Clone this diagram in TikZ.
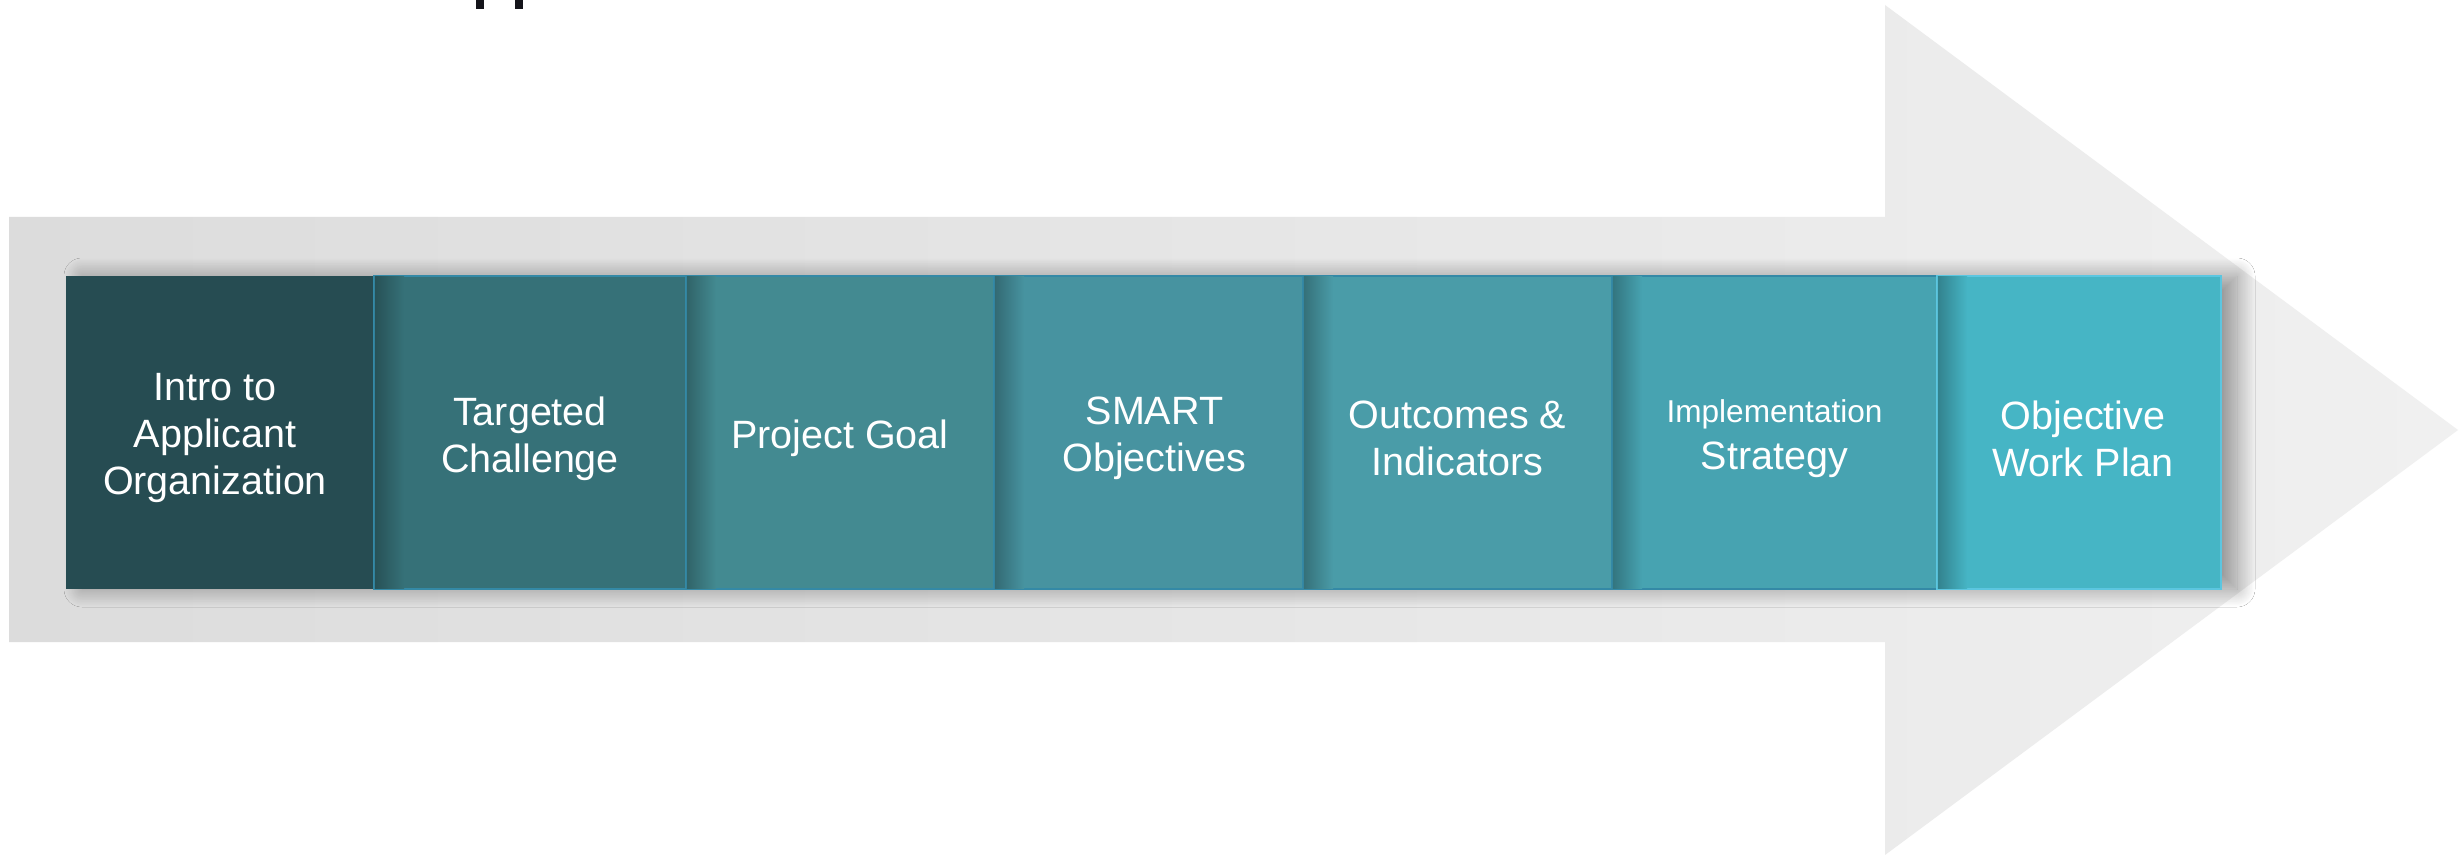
\documentclass[tikz,border=0pt]{standalone}
\usepackage{fontspec}
\setmainfont{Liberation Sans}
\usetikzlibrary{shadows.blur}
\pgfdeclarelayer{bg}
\pgfsetlayers{bg,main}
\definecolor{c1}{HTML}{264C52}
\definecolor{c2}{HTML}{367178}
\definecolor{c3}{HTML}{438A91}
\definecolor{c4}{HTML}{4793A0}
\definecolor{c5}{HTML}{4A9CA8}
\definecolor{c6}{HTML}{47A3B1}
\definecolor{c7}{HTML}{46B5C5}
\definecolor{edgeA}{HTML}{3489A6}
\definecolor{edgeB}{HTML}{5CC6E0}
\definecolor{shaftL}{HTML}{DCDCDC}
\definecolor{shaftR}{HTML}{F0F0F0}
\definecolor{titleink}{HTML}{14141A}
\begin{document}
\begin{tikzpicture}[x=0.5pt,y=-0.5pt,
  stepbox/.style={rectangle, inner sep=0pt, outer sep=0pt,
    minimum height=156.5pt},
  edged/.style={draw=edgeA, line width=0.8pt},
  steptext/.style={text=white, align=center, inner sep=0pt,
    font=\fontsize{19.75pt}{23.5pt}\selectfont},
  band/.style={left color=#1!72!black, right color=#1}
]
\useasboundingbox (0,0) rectangle (2461,855);
% boxes
\node (b1) [stepbox, fill=c1, minimum width=154pt] at (220,432.5) {};
\node (b2) [stepbox, fill=c2, edged, minimum width=156pt] at (530,432.5) {};
\node (b3) [stepbox, fill=c3, edged, minimum width=154pt] at (840,432.5) {};
\node (b4) [stepbox, fill=c4, edged, minimum width=154.5pt] at (1148.5,432.5) {};
\node (b5) [stepbox, fill=c5, edged, minimum width=154.5pt] at (1457.5,432.5) {};
\node (b6) [stepbox, fill=c6, edged, minimum width=162.5pt] at (1774.5,432.5) {};
\node (b7) [stepbox, fill=c7, draw=edgeB, line width=0.8pt, minimum width=142pt] at (2079,432.5) {};
% background: page, title descenders, arrow, row shadow
\begin{pgfonlayer}{bg}
\fill[white] (0,0) rectangle (2461,855);
\fill[titleink] (476,0) rectangle (484,9);
\fill[titleink] (515,0) rectangle (523,9);
\shade[left color=shaftL, right color=shaftR]
  (9,217) -- (1885,217) -- (1885,5) -- (2458,430) -- (1885,855)
  -- (1885,642) -- (9,642) -- cycle;
\path[fill=black, blur shadow={shadow xshift=8pt, shadow yshift=0pt,
    shadow blur radius=9pt, shadow opacity=38, shadow blur steps=28}]
  (b1.north west) rectangle (b7.south east);
\end{pgfonlayer}
% shadow bands cast by each box on the next one
\foreach \i/\c in {2/c2,3/c3,4/c4,5/c5,6/c6,7/c7}{
  \shade[band=\c] ([xshift=0.4pt,yshift=-0.4pt]b\i.north west) rectangle ([xshift=15pt,yshift=0.4pt]b\i.south west);
}
% texts
\node (t1) [steptext] at ([xshift=-2.5pt,yshift=-3pt]b1.center) {Intro to\\Applicant\\Organization};
\node (t2) [steptext] at ([yshift=-3pt]b2.center) {Targeted\\Challenge};
\node (t3) [steptext] at ([yshift=-3pt]b3.center) {Project Goal};
\node (t4) [steptext] at ([xshift=3pt,yshift=-3pt]b4.center) {SMART\\Objectives};
\node (t5) [steptext] at ([yshift=-3pt]b5.center) {Outcomes \&\\Indicators};
\node (t6) [steptext] at ([yshift=-3pt]b6.center) {{\fontsize{15.8pt}{19pt}\selectfont Implementation}\\Strategy};
\node (t7) [steptext] at ([xshift=2pt,yshift=-3pt]b7.center) {Objective\\Work Plan};
\end{tikzpicture}
\end{document}
